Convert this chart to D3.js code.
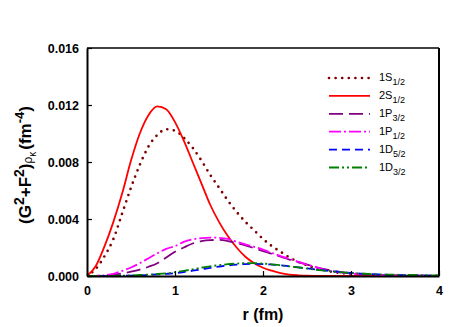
<!DOCTYPE html>
<html><head><meta charset="utf-8">
<script src="https://cdn.jsdelivr.net/npm/d3@7"></script>
<style>body{margin:0;background:#fff}svg{display:block;font-family:"Liberation Sans",Arial,sans-serif}</style>
</head><body><svg id="c" width="468" height="327"></svg>
<script>
const r = d3.range(0, 41).map(i => +(i * 0.1).toFixed(1));
const s1S12 = [0,0.0005,0.0014,0.0026,0.0044,0.0062,0.0078,0.0091,0.0099,0.0103,0.0102,0.0097,0.0090,0.0081,0.0071,0.0062,0.0053,0.0045,0.0038,0.0032,0.0026,0.0021,0.0017,0.0013,0.0010,0.00075,0.00055,0.0004,0.00028,0.0002,0.00013,0.00009,0.00006,0.00004,0.00003,0.00002,0.00002,0.00001,0.00001,0.00001,0.00001];
const s2S12 = [0,0.0007,0.0021,0.0038,0.0058,0.0081,0.0100,0.0113,0.0119,0.0117,0.0108,0.0095,0.0080,0.0065,0.0050,0.0038,0.0028,0.0020,0.00135,0.0009,0.00058,0.00037,0.0002,0.0001,0.00005,0.00002,0.00001,0,0,0,0,0,0,0,0,0,0,0,0,0,0];
const s1P32 = [0,0.00001,0.00003,0.00008,0.00018,0.0003,0.00045,0.00065,0.0009,0.0013,0.0017,0.0020,0.00228,0.00245,0.00252,0.00253,0.00245,0.0023,0.00215,0.00195,0.00175,0.00155,0.00135,0.00115,0.00097,0.0008,0.00063,0.00048,0.00036,0.00027,0.0002,0.00015,0.00011,0.00008,0.00006,0.00004,0.00003,0.00002,0.00002,0.00001,0.00001];
const s1P12 = [0,0.00001,0.00005,0.00015,0.00036,0.0006,0.0009,0.00125,0.0016,0.0019,0.0021,0.0024,0.00257,0.00266,0.0027,0.00268,0.0026,0.0024,0.00222,0.00205,0.00185,0.00162,0.0014,0.0012,0.001,0.0008,0.00063,0.00045,0.00032,0.00023,0.00016,0.00012,0.00009,0.00007,0.00005,0.00004,0.00003,0.00002,0.00002,0.00001,0.00001];
const s1D52 = [0,0,0,0.00001,0.00002,0.00003,0.00005,0.00008,0.00011,0.00015,0.0002,0.00028,0.00037,0.00047,0.00057,0.00066,0.00074,0.0008,0.00084,0.00085,0.00084,0.0008,0.00075,0.00068,0.00061,0.00054,0.00046,0.00039,0.00032,0.00026,0.00021,0.00017,0.00014,0.00011,0.00009,0.00007,0.00006,0.00005,0.00004,0.00003,0.00003];
const s1D32 = [0,0,0,0.00001,0.00002,0.00004,0.00007,0.0001,0.00014,0.00019,0.00026,0.00036,0.00047,0.00058,0.00068,0.00076,0.00083,0.00087,0.0009,0.0009,0.00087,0.00082,0.00075,0.00068,0.0006,0.00052,0.00044,0.00037,0.0003,0.00025,0.0002,0.00017,0.00014,0.00012,0.0001,0.00009,0.00008,0.00007,0.00006,0.00005,0.00005];
const xTicks = [0,1,2,3,4];
const yTicks = [0,0.004,0.008,0.012,0.016];
const seriesNames = [["1S","1/2"],["2S","1/2"],["1P","3/2"],["1P","1/2"],["1D","5/2"],["1D","3/2"]];
const seriesValues = [s1S12,s2S12,s1P32,s1P12,s1D52,s1D32];
const colors = ["#800000","#ff0000","#800080","#ff00ff","#0000ff","#008000"];
const dashes = ["0,6.6","none","14,6","12,3,2,3","8,5","10,3,2,3,2,3"];

const svg = d3.select("#c");
const L=87,R=439,T=48,B=276;
const x = d3.scaleLinear().domain([0,4]).range([L,R]);
const y = d3.scaleLinear().domain([0,0.016]).range([B,T]);

svg.append("clipPath").attr("id","cp").append("rect").attr("x",L).attr("y",T).attr("width",R-L).attr("height",B-T);
const line = d3.line().x(d=>x(d[0])).y(d=>y(d[1])).curve(d3.curveMonotoneX);
const g = svg.append("g").attr("clip-path","url(#cp)");
seriesValues.forEach((vals,i)=>{
  g.append("path").datum(r.map((rv,j)=>[rv,vals[j]]))
   .attr("d",line).attr("fill","none").attr("stroke",colors[i])
   .attr("stroke-width", i===0?2.7:1.8)
   .attr("stroke-linecap", i===0?"round":"butt")
   .attr("stroke-dasharray",dashes[i]);
});

svg.append("line").attr("x1",L).attr("x2",R).attr("y1",T).attr("y2",T).attr("stroke","#000").attr("stroke-width",1.5);
svg.append("line").attr("x1",R).attr("x2",R).attr("y1",T).attr("y2",B).attr("stroke","#000").attr("stroke-width",2);

const ax = svg.append("g").attr("transform",`translate(0,${B})`)
  .call(d3.axisBottom(x).tickValues(xTicks).tickFormat(d3.format("d")).tickSizeInner(-5).tickSizeOuter(0).tickPadding(10));
const ay = svg.append("g").attr("transform",`translate(${L},0)`)
  .call(d3.axisLeft(y).tickValues(yTicks).tickFormat(d3.format(".3f")).tickSizeInner(-5).tickSizeOuter(0).tickPadding(8));
[ax,ay].forEach(a=>{
  a.select(".domain").attr("stroke","#000").attr("stroke-width",2);
  a.selectAll(".tick line").attr("stroke","#000").attr("stroke-width",1.2);
  a.selectAll(".tick text").attr("fill","#000").style("font-size","12.5px").style("font-weight","bold").style("font-family","'Liberation Sans',Arial,sans-serif");
});

svg.append("text").attr("x",263).attr("y",320).attr("text-anchor","middle")
  .style("font-size","16px").style("font-weight","bold").text("r (fm)");
const yt = svg.append("text").attr("transform","translate(31,165) rotate(-90)").attr("text-anchor","middle")
  .style("font-size","17px").style("font-weight","bold");
yt.append("tspan").text("(G");
yt.append("tspan").attr("dy",-7).style("font-size","14px").text("2");
yt.append("tspan").attr("dy",7).text("+F");
yt.append("tspan").attr("dy",-7).style("font-size","14px").text("2");
yt.append("tspan").attr("dy",7).text(")");
yt.append("tspan").attr("dy",1).style("font-size","12px").style("font-weight","normal").text("ρ");
yt.append("tspan").attr("dy",4).style("font-size","10px").style("font-weight","normal").text("κ");
yt.append("tspan").attr("dy",-5).attr("dx",2).text("(fm");
yt.append("tspan").attr("dy",-7).style("font-size","13px").text("-4");
yt.append("tspan").attr("dy",7).text(")");

const lg = svg.append("g");
seriesNames.forEach((nm,i)=>{
  const yy = 78 + i*17.9;
  lg.append("line").attr("x1",329).attr("x2",370).attr("y1",yy).attr("y2",yy)
    .attr("stroke",colors[i]).attr("stroke-width",i===0?2.7:1.8)
    .attr("stroke-linecap", i===0?"round":"butt").attr("stroke-dasharray",dashes[i]);
  const t = lg.append("text").attr("x",379).attr("y",yy+3).style("font-size","11px");
  t.append("tspan").text(nm[0]);
  t.append("tspan").attr("dy",4).style("font-size","9px").text(nm[1]);
});
</script></body></html>
